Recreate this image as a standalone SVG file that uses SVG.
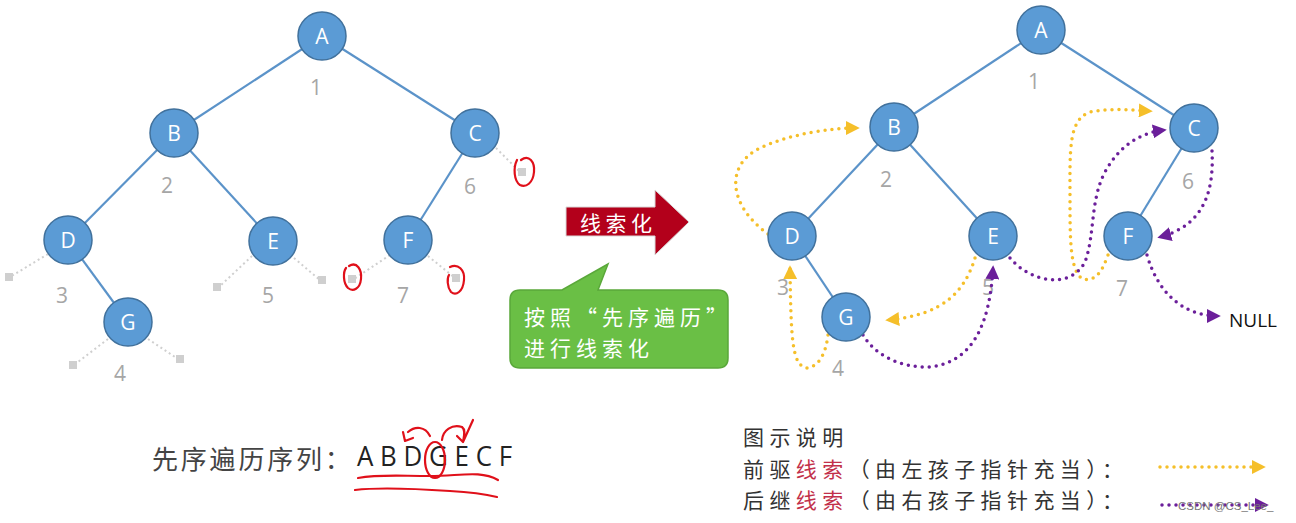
<svg xmlns="http://www.w3.org/2000/svg" width="1296" height="523" viewBox="0 0 1296 523">
<defs>
<style>
.edge{stroke:#5b93c9;stroke-width:2.2;fill:none}
.node circle{fill:#5b9bd5;stroke:#41719c;stroke-width:1.5}
.node text{fill:#fff;font-family:"Open Sans","Liberation Sans",sans-serif;font-size:21px;text-anchor:middle;dominant-baseline:central}
.num{fill:#a6a6a6;font-family:"Open Sans","Liberation Sans",sans-serif;font-size:21px;text-anchor:middle}
.stub{stroke:#cfcfcf;stroke-width:2;stroke-dasharray:2 3;fill:none}
.sq{fill:#cfcfcf}
.red{stroke:#e0101a;stroke-width:2.2;fill:none;stroke-linecap:round;stroke-linejoin:round}
.yt{stroke:#f5bf2a;stroke-width:3.5;stroke-dasharray:0 7;stroke-linecap:round;fill:none}
.pt{stroke:#6b1f9a;stroke-width:3.5;stroke-dasharray:0 7;stroke-linecap:round;fill:none}
.cjk{font-family:"Noto Sans CJK SC","Liberation Sans",sans-serif}
.leg{font-size:21px;letter-spacing:5.4px;fill:#333}
</style>
<marker id="ya" viewBox="0 0 10 10" refX="8" refY="5" markerWidth="4" markerHeight="4" orient="auto" markerUnits="strokeWidth"><path d="M0,0 L10,5 L0,10 z" fill="#f5bf2a"/></marker>
<marker id="pa" viewBox="0 0 10 10" refX="8" refY="5" markerWidth="4" markerHeight="4" orient="auto" markerUnits="strokeWidth"><path d="M0,0 L10,5 L0,10 z" fill="#6b1f9a"/></marker>
</defs>

<!-- Left tree connectors -->
<g id="left-edges">
<line class="edge" x1="322" y1="36" x2="174" y2="133"/>
<line class="edge" x1="322" y1="36" x2="475" y2="133"/>
<line class="edge" x1="174" y1="133" x2="68" y2="240"/>
<line class="edge" x1="174" y1="133" x2="273" y2="241"/>
<line class="edge" x1="475" y1="133" x2="408" y2="240"/>
<line class="edge" x1="68" y1="240" x2="128" y2="322"/>
</g>
<g id="left-null-stubs">
<path class="stub" d="M48,254 L10,277 M252,256 L219,287 M294,258 L320,280 M390,255 L354,279 M428,256 L455,278 M496,148 L520,172 M108,339 L74,365 M148,339 L178,359"/>
<rect class="sq" x="5" y="273" width="8" height="8"/>
<rect class="sq" x="213" y="283" width="8" height="8"/>
<rect class="sq" x="318" y="276" width="8" height="8"/>
<rect class="sq" x="348" y="275" width="8" height="8"/>
<rect class="sq" x="452" y="274" width="8" height="8"/>
<rect class="sq" x="518" y="168" width="8" height="8"/>
<rect class="sq" x="69" y="361" width="8" height="8"/>
<rect class="sq" x="176" y="355" width="8" height="8"/>
</g>
<g id="L-A" class="node"><circle cx="322" cy="36" r="24"/><text x="322" y="36">A</text></g>
<g id="L-B" class="node"><circle cx="174" cy="133" r="24"/><text x="174" y="133">B</text></g>
<g id="L-C" class="node"><circle cx="475" cy="133" r="24"/><text x="475" y="133">C</text></g>
<g id="L-D" class="node"><circle cx="68" cy="240" r="24"/><text x="68" y="240">D</text></g>
<g id="L-E" class="node"><circle cx="273" cy="241" r="24"/><text x="273" y="241">E</text></g>
<g id="L-F" class="node"><circle cx="408" cy="240" r="24"/><text x="408" y="240">F</text></g>
<g id="L-G" class="node"><circle cx="128" cy="322" r="24"/><text x="128" y="322">G</text></g>
<g id="left-nums">
<text class="num" x="316" y="95">1</text>
<text class="num" x="167" y="193">2</text>
<text class="num" x="62" y="303">3</text>
<text class="num" x="120" y="381">4</text>
<text class="num" x="268" y="303">5</text>
<text class="num" x="470" y="194">6</text>
<text class="num" x="403" y="303">7</text>
</g>
<g id="red-marks-left">
<path class="red" d="M521,160 C529,154 535,162 534,172 C533,183 526,188 520,185 C514,181 513,168 517,160"/>
<path class="red" d="M349,266 C357,261 362,270 361,279 C360,289 353,292 348,288 C343,283 343,272 346,268"/>
<path class="red" d="M450,267 C458,263 465,270 464,280 C463,292 456,296 451,292 C447,287 447,278 449,275"/>
</g>

<!-- Red arrow -->
<g id="arrow-thread">
<path d="M566,207 L655,207 L655,190 L689,222 L655,255 L655,236 L566,236 Z" fill="#b3001b" stroke="#d9d9d9" stroke-width="1"/>
<text x="580" y="222" class="cjk" fill="#fff" font-size="21" letter-spacing="4.5" dominant-baseline="central">线索化</text>
</g>

<!-- Green callout -->
<g id="callout">
<path d="M520,290 L562,290 L608,264 L598,290 L718,290 Q728,290 728,300 L728,358 Q728,368 718,368 L520,368 Q510,368 510,358 L510,300 Q510,290 520,290 Z" fill="#6abf45" stroke="#5aa83a" stroke-width="1.5"/>
<text x="524" y="325" class="cjk" fill="#fff" font-size="21" letter-spacing="5">按照“先序遍历”</text>
<text x="524" y="356" class="cjk" fill="#fff" font-size="21" letter-spacing="5">进行线索化</text>
</g>

<!-- Right tree connectors -->
<g id="right-edges">
<line class="edge" x1="1041" y1="30" x2="894" y2="127"/>
<line class="edge" x1="1041" y1="30" x2="1194" y2="128"/>
<line class="edge" x1="894" y1="127" x2="792" y2="236"/>
<line class="edge" x1="894" y1="127" x2="993" y2="236"/>
<line class="edge" x1="1194" y1="128" x2="1128" y2="236"/>
<line class="edge" x1="792" y1="236" x2="846" y2="317"/>
</g>
<g id="right-nums">
<text class="num" x="1034" y="89">1</text>
<text class="num" x="886" y="187">2</text>
<text class="num" x="783" y="295">3</text>
<text class="num" x="838" y="376">4</text>
<text class="num" x="988" y="295">5</text>
<text class="num" x="1188" y="189">6</text>
<text class="num" x="1122" y="296">7</text>
</g>
<g id="threads">
<path class="yt" d="M768,234 C728,205 725,165 760,148 C790,134 830,128 857,128" marker-end="url(#ya)"/>
<path class="yt" d="M828,335 C826,352 820,366 807,368 C792,366 791,340 790,268" marker-end="url(#ya)"/>
<path class="yt" d="M975,258 C965,290 945,315 888,320" marker-end="url(#ya)"/>
<path class="yt" d="M1108,255 C1102,272 1095,282 1083,279 C1070,272 1070,240 1070,200 C1070,150 1068,120 1090,112 C1110,108 1130,110 1150,111" marker-end="url(#ya)"/>
<path class="pt" d="M863,335 C875,355 900,368 930,367 C975,362 990,320 993,268" marker-end="url(#pa)"/>
<path class="pt" d="M1010,258 C1030,282 1070,290 1085,262 C1095,235 1090,200 1105,172 C1120,145 1140,133 1164,130" marker-end="url(#pa)"/>
<path class="pt" d="M1212,151 C1214,190 1205,225 1160,237" marker-end="url(#pa)"/>
<path class="pt" d="M1147,255 C1160,300 1190,316 1218,316" marker-end="url(#pa)"/>
</g>
<g id="R-A" class="node"><circle cx="1041" cy="30" r="24"/><text x="1041" y="30">A</text></g>
<g id="R-B" class="node"><circle cx="894" cy="127" r="24"/><text x="894" y="127">B</text></g>
<g id="R-C" class="node"><circle cx="1194" cy="128" r="24"/><text x="1194" y="128">C</text></g>
<g id="R-D" class="node"><circle cx="792" cy="236" r="24"/><text x="792" y="236">D</text></g>
<g id="R-E" class="node"><circle cx="993" cy="236" r="24"/><text x="993" y="236">E</text></g>
<g id="R-F" class="node"><circle cx="1128" cy="236" r="24"/><text x="1128" y="236">F</text></g>
<g id="R-G" class="node"><circle cx="846" cy="317" r="24"/><text x="846" y="317">G</text></g>
<text x="1229" y="327" font-family="'Open Sans','Liberation Sans',sans-serif" font-size="19" fill="#111">NULL</text>

<!-- Preorder sequence -->
<g id="sequence">
<text x="152" y="469" class="cjk" font-size="26" letter-spacing="2.8" fill="#444">先序遍历序列：</text>
<text x="357" y="466" font-family="'Open Sans','Liberation Sans',sans-serif" font-size="27" fill="#222" textLength="155" lengthAdjust="spacingAndGlyphs">A B D G E C F</text>
<ellipse class="red" cx="435" cy="460" rx="10" ry="18"/>
<path class="red" d="M430,436 C425,426 415,426 408,432 M403,432 L405,441 L413,438"/>
<path class="red" d="M442,440 C443,430 452,424 462,427 C466,430 464,436 463,442 M457,436 L463,442 L473,420"/>
<path class="red" d="M358,478 C380,474 400,476 430,476 C460,476 480,470 498,480"/>
<path class="red" d="M355,490 C380,487 420,489 450,491 C470,492 485,494 497,497"/>
</g>

<!-- Legend -->
<g id="legend">
<text x="743" y="445" class="cjk leg">图示说明</text>
<text x="743" y="477" class="cjk leg">前驱<tspan fill="#c2304a">线索</tspan>（由左孩子指针充当）：</text>
<text x="743" y="508" class="cjk leg">后继<tspan fill="#c2304a">线索</tspan>（由右孩子指针充当）：</text>
<line class="yt" x1="1160" y1="467" x2="1263" y2="467" marker-end="url(#ya)"/>
<line class="pt" x1="1162" y1="505" x2="1266" y2="505" marker-end="url(#pa)"/>
<text x="1178" y="510" font-family="'Liberation Sans',sans-serif" font-size="11.5" fill="#777">CSDN @CS_Lee_</text>
</g>
</svg>
